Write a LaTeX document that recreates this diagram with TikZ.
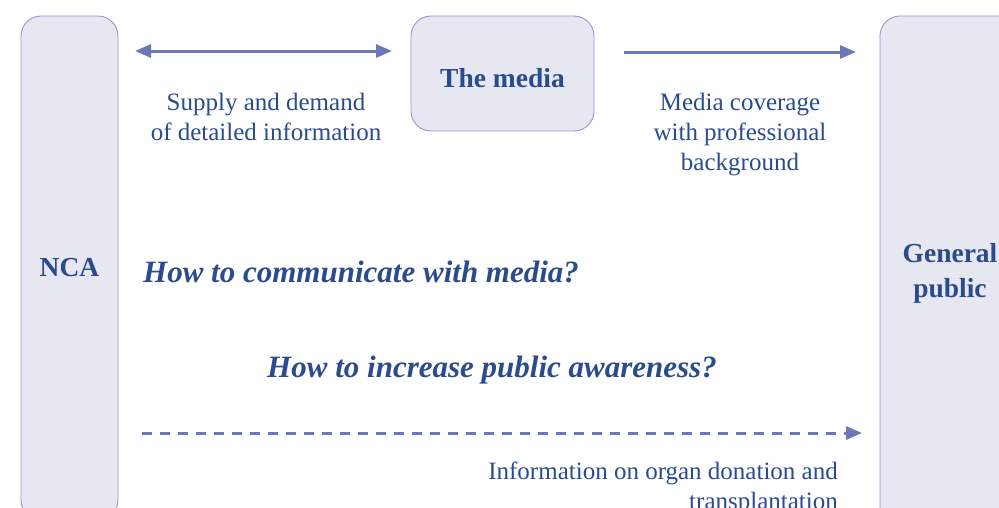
\documentclass[tikz,border=0pt]{standalone}
\usepackage{fontspec}
\setmainfont{Liberation Serif}
\usetikzlibrary{arrows.meta}
\definecolor{boxfill}{HTML}{E6E7F1}
\definecolor{boxline}{HTML}{8F9AD0}
\definecolor{arr}{HTML}{6A78B7}
\definecolor{txt}{HTML}{2A4B8D}
\tikzset{
  panel/.style={draw=boxline, fill=boxfill, line width=0.9pt, rounded corners=20pt, inner sep=0pt, text=txt, font=\fontsize{27.5}{35}\selectfont\bfseries, align=center},
  conn/.style={draw=arr, line width=3pt, -{Triangle[length=16pt,width=13pt]}},
  lbl/.style={text=txt, font=\fontsize{25}{30}\selectfont, align=center, inner sep=0pt},
  question/.style={text=txt, font=\fontsize{31}{36}\selectfont\bfseries\itshape, inner sep=0pt},
}
\begin{document}
\begin{tikzpicture}[x=1pt,y=-1pt]
\useasboundingbox (0,0) rectangle (999,507);
\node[panel, minimum width=97pt, minimum height=504pt] (nca) at (69.5,268) {NCA};
\node[panel, minimum width=183pt, minimum height=115pt, text height=27pt, text depth=0pt] (media) at (502.5,73.5) {The media};
\node[panel, minimum width=140pt, minimum height=514pt] (pub) at (950,273) {General\\public};

\coordinate (a1) at (135,51);
\coordinate (a2) at (392,51);
\draw[conn, {Triangle[length=16pt,width=13pt]}-{Triangle[length=16pt,width=13pt]}] (a1) -- (a2);
\coordinate (b1) at (624,52);
\coordinate (b2) at (856,52);
\draw[conn] (b1) -- (b2);
\coordinate (c1) at (142,433);
\coordinate (c2) at (862,433);
\draw[conn, dash pattern=on 10pt off 8pt] (c1) -- (c2);

\node[lbl] (l1) at (266,117) {Supply and demand\\of detailed information};
\node[lbl] (l2) at (740,135) {Media coverage\\with professional\\background};
\node[lbl, anchor=north east, align=right] (l3) at (838,462) {Information on organ donation and\\transplantation};

\node[question, anchor=west] (q1) at (143,272) {How to communicate with media?};
\node[question] (q2) at (492,370) {How to increase public awareness?};
\end{tikzpicture}
\end{document}
